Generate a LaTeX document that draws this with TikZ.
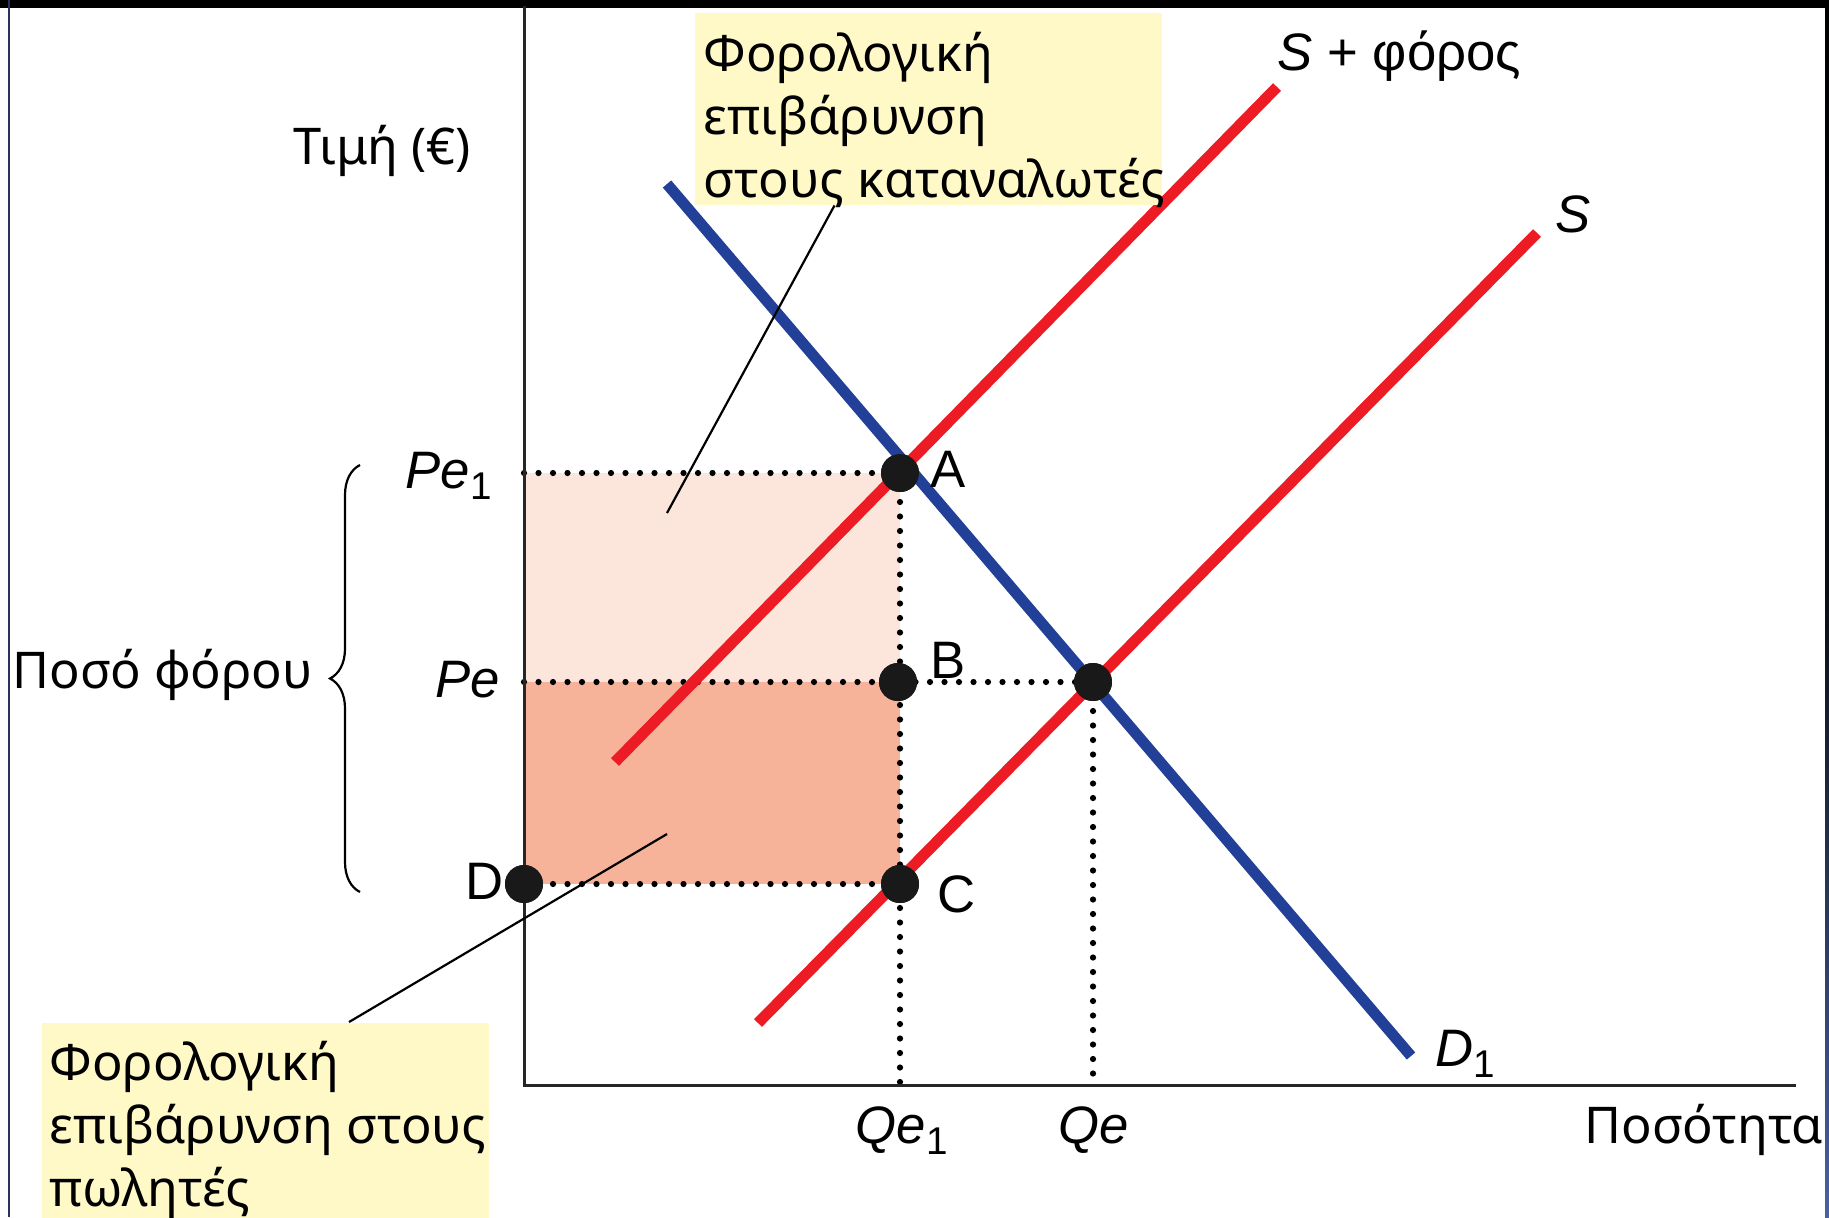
\documentclass[tikz,border=0pt]{standalone}
\usepackage{fontspec}
\setmainfont{Noto Sans}
\newfontfamily\labfont{Liberation Sans}
\usetikzlibrary{decorations.pathreplacing,calc}
\definecolor{redS}{RGB}{237,28,36}
\definecolor{blueD}{RGB}{35,64,152}
\definecolor{lightfill}{RGB}{252,230,219}
\definecolor{darkfill}{RGB}{247,179,153}
\definecolor{boxfill}{RGB}{255,249,200}
\definecolor{navy}{RGB}{40,50,90}
\definecolor{edgeblue}{RGB}{70,100,160}
\newcommand{\subone}{\raisebox{-3.4pt}{\upshape\fontsize{11pt}{11pt}\selectfont 1}}
\begin{document}
\begin{tikzpicture}[x=0.1mm,y=-0.1mm,
  curve/.style={line width=1.1mm},
  axisline/.style={line width=0.3mm, black!85},
  dotline/.style={line width=0.62mm, line cap=round, dash pattern=on 0mm off 1.45mm},
  pt/.style={circle, fill=black!90, inner sep=0pt, minimum size=3.8mm},
  leader/.style={line width=0.22mm},
  gtext/.style={font=\fontsize{14.4pt}{17.8pt}\selectfont, inner sep=0pt, align=left},
  ltext/.style={font=\labfont\itshape\fontsize{15pt}{18pt}\selectfont, inner sep=0pt},
  utext/.style={font=\labfont\fontsize{15pt}{18pt}\selectfont, inner sep=0pt},
  ybox/.style={fill=boxfill, inner sep=0pt, anchor=north west}
]
\useasboundingbox (0,0) rectangle (1829,1217);
\fill[white] (0,0) rectangle (1829,1217);

% frame
\fill[black] (0,0) rectangle (1829,8);
\shade[top color=black, bottom color=edgeblue, middle color=black!85!edgeblue] (1825,0) rectangle (1829,1217);
\draw[navy, line width=0.2mm] (9,0) -- (9,1217);

% shaded areas
\fill[lightfill] (524,473) rectangle (900,682);
\fill[darkfill] (524,682) rectangle (900,884);

% key coordinates
\coordinate (O) at (524,1085);
\coordinate (ytop) at (524,6);
\coordinate (xend) at (1796,1085);
\coordinate (yPe1) at (524,473);
\coordinate (yPe) at (524,682);
\coordinate (xQe1) at (900,1085);
\coordinate (xQe) at (1093,1085);
\coordinate (Ds) at (667,184);
\coordinate (De) at (1411,1056);
\coordinate (STs) at (615,762);
\coordinate (STe) at (1277,87);
\coordinate (Ss) at (758,1023);
\coordinate (Se) at (1537,233);
\coordinate (consend) at (667,513);
\coordinate (sellend) at (667,834);

% points
\node[pt] (A) at (900,473) {};
\node[pt] (B) at (898,682) {};
\node[pt] (C) at (900,884) {};
\node[pt] (D) at (524,884) {};
\node[pt] (E) at (1093,682) {};

% dotted lines
\draw[dotline] (yPe1) -- (A.center);
\draw[dotline] (yPe) -- (B.center) -- (E.center);
\draw[dotline] (D.center) -- (C.center);
\draw[dotline] (A.center) -- (xQe1);
\draw[dotline] (E.center) -- (xQe);

% axes
\draw[axisline] (ytop) -- (O) -- (xend);

% curves
\draw[curve, blueD] (Ds) -- (De);
\draw[curve, redS] (STs) -- (STe);
\draw[curve, redS] (Ss) -- (Se);

% points on top
\foreach \p in {A,B,C,D,E} \fill[black!90] (\p) circle (1.9mm);

% yellow boxes
\node[ybox, minimum width=46.7mm, minimum height=19.2mm] (consbox) at (694,12) {};
\node[ybox, minimum width=44.7mm, minimum height=19.5mm] (sellbox) at (41,1022) {};
\node[gtext, anchor=north west] (constext) at (703,32) {Φορολογική\\επιβάρυνση\\στους καταναλωτές};
\node[gtext, anchor=north west] (selltext) at (49,1041) {Φορολογική\\επιβάρυνση στους\\πωλητές};

% leaders
\draw[leader] ($(consbox.south west)!0.3!(consbox.south east)$) -- (consend);
\draw[leader] ($(sellbox.north west)!0.687!(sellbox.north east)$) -- (sellend);

% brace
\draw[line width=0.22mm, decorate, decoration={brace, amplitude=3mm}] (360,892) -- (360,465);
\node[gtext, anchor=base west] (tax) at (12,688) {Ποσό φόρου};

% axis labels
\node[gtext, anchor=base west] (price) at (293,164) {Τιμή (€)};
\node[gtext, anchor=base west] (qty) at (1584,1143) {Ποσότητα};

% point labels
\node[ltext, anchor=base west] (lPe1) at (405,488) {Pe\subone};
\node[ltext, anchor=base west] (lPe) at (435,697) {Pe};
\node[utext, anchor=base west] (lD) at (465,899) {D};
\node[utext, anchor=base west] (lA) at (930,487) {A};
\node[utext, anchor=base west] (lB) at (930,678) {B};
\node[utext, anchor=base west] (lC) at (937,912) {C};
\node[ltext, anchor=base west] (lQe1) at (855,1143) {Qe\subone};
\node[ltext, anchor=base west] (lQe) at (1058,1143) {Qe};
\node[ltext, anchor=base west] (lD1) at (1435,1066) {D\subone};
\node[ltext, anchor=base west] (lS) at (1555,232) {S};
\node[utext, anchor=base west] (lST) at (1277,70) {\itshape S\upshape{} + φόρος};
\end{tikzpicture}
\end{document}
